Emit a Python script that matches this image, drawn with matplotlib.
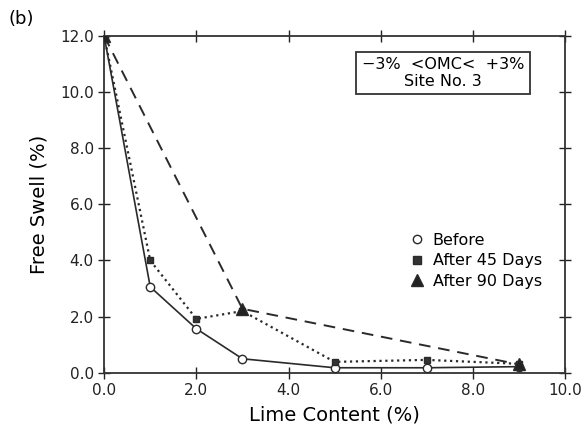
import matplotlib
matplotlib.use('Agg')
import matplotlib.pyplot as plt
from matplotlib.lines import Line2D

lime = [0, 1, 2, 3, 5, 7, 9]
before = [12.0, 3.06, 1.57, 0.5, 0.18, 0.18, 0.22]
after45 = [12.0, 4.0, 1.92, 2.2, 0.39, 0.46, 0.32]
lime90 = [0, 3, 9]
after90 = [12.0, 2.28, 0.3]

plt.rcParams['font.family'] = 'DejaVu Sans'

fig = plt.figure(figsize=(5.85, 4.32), dpi=100)
ax = fig.add_axes([0.178, 0.137, 0.788, 0.78])

c = '#2a2a2a'
ax.plot(lime, before, '-', color=c, lw=1.2, marker='o', mfc='white', mec=c, ms=6, mew=1, zorder=3)
ax.plot(lime, after45, ':', color=c, lw=1.6, marker='s', mfc='#333333', mec=c, ms=5, zorder=4)
ax.plot(lime90, after90, '--', color=c, lw=1.4, dashes=(6, 4), marker='^', mfc='#222222', mec=c, ms=8, zorder=5)

ax.set_xlim(0, 10)
ax.set_ylim(0, 12)
ax.set_xticks([0, 2, 4, 6, 8, 10])
ax.set_yticks([0, 2, 4, 6, 8, 10, 12])
ax.set_xticklabels(['0.0', '2.0', '4.0', '6.0', '8.0', '10.0'])
ax.set_yticklabels(['0.0', '2.0', '4.0', '6.0', '8.0', '10.0', '12.0'])
ax.tick_params(direction='inout', length=8, width=1, top=True, right=True, labelsize=11, colors='#222222')
for s in ax.spines.values():
    s.set_linewidth(1.3)
    s.set_color('#333333')

ax.set_xlabel('Lime Content (%)', fontsize=14, labelpad=5)
ax.set_ylabel('Free Swell (%)', fontsize=14, labelpad=8)

ax.text(0.735, 0.89, '\u22123%  <OMC<  +3%\nSite No. 3', transform=ax.transAxes,
        ha='center', va='center', fontsize=11.5, linespacing=1.1,
        bbox=dict(boxstyle='square,pad=0.35', fc='white', ec='#333333', lw=1.3))

handles = [
    Line2D([], [], ls='none', marker='o', mfc='white', mec=c, ms=6),
    Line2D([], [], ls='none', marker='s', mfc='#333333', mec=c, ms=6),
    Line2D([], [], ls='none', marker='^', mfc='#222222', mec=c, ms=8),
]
ax.legend(handles, ['Before', 'After 45 Days', 'After 90 Days'], loc='upper left',
          bbox_to_anchor=(0.64, 0.44), frameon=False, fontsize=11.5,
          handletextpad=0.4, labelspacing=0.35, handlelength=1.2, borderpad=0)

fig.text(0.015, 0.945, '(b)', fontsize=13)

fig.savefig('out.png', dpi=100)
